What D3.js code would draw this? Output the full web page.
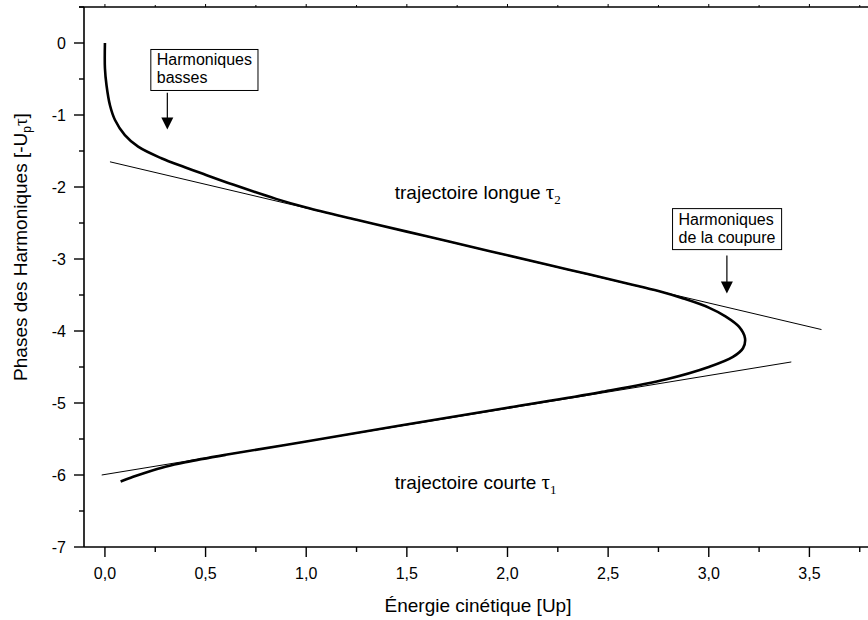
<!DOCTYPE html>
<html><head><meta charset="utf-8">
<script src="https://cdn.jsdelivr.net/npm/d3@7/dist/d3.min.js"></script>
<style>body{margin:0;background:#fff}svg{display:block}text{font-family:"Liberation Sans",Arial,sans-serif;fill:#000}</style>
</head><body>
<svg id="c" width="868" height="620"></svg>
<script>
// Thick curve: energy (Up) vs harmonic phase (-Up tau), long branch then short branch
const energy = [0, 0.0, 0.008, 0.025, 0.05, 0.099, 0.165, 0.28, 0.397, 0.48, 0.64, 0.85, 1.0, 1.25, 1.5, 1.71, 2.0, 2.3, 2.6, 2.75, 2.87, 3.0, 3.085, 3.15, 3.18, 3.17, 3.12, 3.0, 2.79, 2.46, 2.0, 1.46, 1.0, 0.6, 0.4, 0.3, 0.22, 0.14, 0.078];
const phase  = [0, -0.35, -0.59, -0.865, -1.07, -1.28, -1.44, -1.6, -1.725, -1.81, -1.97, -2.165, -2.285, -2.455, -2.62, -2.758, -2.948, -3.145, -3.343, -3.445, -3.545, -3.675, -3.8, -3.94, -4.1, -4.24, -4.36, -4.5, -4.67, -4.85, -5.065, -5.315, -5.534, -5.72, -5.822, -5.885, -5.95, -6.025, -6.09];
// Thin tangent lines
const tangentLongE = [0.025, 3.56];
const tangentLongP = [-1.65, -3.98];
const tangentShortE = [-0.016, 3.41];
const tangentShortP = [-6.0, -4.43];
// Ticks
const xMajor = [0, 0.5, 1.0, 1.5, 2.0, 2.5, 3.0, 3.5];
const xMinor = [0.25, 0.75, 1.25, 1.75, 2.25, 2.75, 3.25, 3.75];
const yMajor = [0, -1, -2, -3, -4, -5, -6, -7];
const yMinor = [0.5, -0.5, -1.5, -2.5, -3.5, -4.5, -5.5, -6.5];
// Annotations (data coords)
const annotations = [
  {lines: ["Harmoniques", "basses"], x: 0.228, y: -0.09, arrowX: 0.31, arrowFrom: -0.69, arrowTo: -1.2},
  {lines: ["Harmoniques", "de la coupure"], x: 2.82, y: -2.30, arrowX: 3.09, arrowFrom: -2.95, arrowTo: -3.48}
];
const trajLabels = [
  {text: "trajectoire longue ", sub: "2", x: 1.44, y: -2.16},
  {text: "trajectoire courte ", sub: "1", x: 1.44, y: -6.19}
];

const svg = d3.select("#c");
const x = d3.scaleLinear().domain([-0.104, 3.80]).range([84, 869.8]);
const y = d3.scaleLinear().domain([-7, 0.5]).range([547, 7]);
const fmtX = d => d3.format(".1f")(d).replace(".", ",");

// Curves
const line = d3.line().x(d => x(d[0])).y(d => y(d[1])).curve(d3.curveCatmullRom.alpha(0.5));
svg.append("path").datum(energy.map((e, i) => [e, phase[i]]))
  .attr("d", line).attr("fill", "none").attr("stroke", "#000").attr("stroke-width", 2.6)
  .attr("stroke-linejoin", "round").attr("stroke-linecap", "butt");
const lin = d3.line().x(d => x(d[0])).y(d => y(d[1]));
svg.append("path").datum(tangentLongE.map((e, i) => [e, tangentLongP[i]]))
  .attr("d", lin).attr("fill", "none").attr("stroke", "#000").attr("stroke-width", 1);
svg.append("path").datum(tangentShortE.map((e, i) => [e, tangentShortP[i]]))
  .attr("d", lin).attr("fill", "none").attr("stroke", "#000").attr("stroke-width", 1);

// Axes
const ax = svg.append("g").attr("stroke", "#000");
ax.append("line").attr("x1", x.range()[0]).attr("x2", 868).attr("y1", y(-7)).attr("y2", y(-7)).attr("stroke-width", 1.6);
ax.append("line").attr("x1", x.range()[0]).attr("x2", x.range()[0]).attr("y1", y(0.5)).attr("y2", y(-7)).attr("stroke-width", 1.6);
ax.append("line").attr("x1", x.range()[0] - 5).attr("x2", 868).attr("y1", y(0.5)).attr("y2", y(0.5)).attr("stroke-width", 1.6);
xMajor.forEach(v => {
  ax.append("line").attr("x1", x(v)).attr("x2", x(v)).attr("y1", y(-7)).attr("y2", y(-7) + 10).attr("stroke-width", 1.4);
  ax.append("line").attr("x1", x(v)).attr("x2", x(v)).attr("y1", y(0.5)).attr("y2", y(0.5) - 3).attr("stroke-width", 1);
  svg.append("text").attr("x", x(v)).attr("y", 579).attr("text-anchor", "middle").attr("font-size", 16).text(fmtX(v));
});
xMinor.forEach(v => {
  ax.append("line").attr("x1", x(v)).attr("x2", x(v)).attr("y1", y(-7)).attr("y2", y(-7) + 5).attr("stroke-width", 1.4);
  ax.append("line").attr("x1", x(v)).attr("x2", x(v)).attr("y1", y(0.5)).attr("y2", y(0.5) - 2).attr("stroke-width", 1);
});
yMajor.forEach(v => {
  ax.append("line").attr("x1", x.range()[0] - 10).attr("x2", x.range()[0]).attr("y1", y(v)).attr("y2", y(v)).attr("stroke-width", 1.4);
  svg.append("text").attr("x", 66).attr("y", y(v) + 6).attr("text-anchor", "end").attr("font-size", 16).text(v === 0 ? "0" : "-" + Math.abs(v));
});
yMinor.forEach(v => {
  ax.append("line").attr("x1", x.range()[0] - 5).attr("x2", x.range()[0]).attr("y1", y(v)).attr("y2", y(v)).attr("stroke-width", 1.4);
});

// Axis titles
svg.append("text").attr("x", 478).attr("y", 612).attr("text-anchor", "middle").attr("font-size", 19).text("Énergie cinétique [Up]");
const yt = svg.append("text").attr("transform", "translate(27,247) rotate(-90)").attr("text-anchor", "middle").attr("font-size", 19);
yt.append("tspan").text("Phases des Harmoniques  [-U");
yt.append("tspan").attr("font-size", 12).attr("dy", 4).text("p");
yt.append("tspan").attr("dy", -4).attr("font-family", "'Liberation Serif',serif").attr("font-size", 19).text("τ");
yt.append("tspan").text("]");

// Trajectory labels
trajLabels.forEach(t => {
  const tx = svg.append("text").attr("x", x(t.x)).attr("y", y(t.y)).attr("font-size", 19);
  tx.append("tspan").text(t.text);
  tx.append("tspan").attr("font-family", "'Liberation Serif',serif").attr("font-size", 21).text("τ");
  tx.append("tspan").attr("font-family", "'Liberation Serif',serif").attr("font-size", 13).attr("dy", 5).text(t.sub);
});

// Annotation boxes and arrows
annotations.forEach(a => {
  const g = svg.append("g");
  const t = g.append("text").attr("font-size", 16);
  a.lines.forEach((l, i) => t.append("tspan").attr("x", x(a.x) + 6).attr("y", y(a.y) + 16 + i * 18).text(l));
  const bb = t.node().getBBox();
  g.insert("rect", "text").attr("x", x(a.x)).attr("y", y(a.y)).attr("width", bb.width + 12).attr("height", 41)
    .attr("fill", "#fff").attr("stroke", "#000").attr("stroke-width", 1);
  const ax0 = x(a.arrowX), y0 = y(a.arrowFrom), y1 = y(a.arrowTo);
  g.append("line").attr("x1", ax0).attr("x2", ax0).attr("y1", y0).attr("y2", y1 - 10).attr("stroke", "#000").attr("stroke-width", 1.2);
  g.append("path").attr("d", `M${ax0 - 6},${y1 - 12} L${ax0 + 6},${y1 - 12} L${ax0},${y1} Z`).attr("fill", "#000");
});
</script>
</body></html>
